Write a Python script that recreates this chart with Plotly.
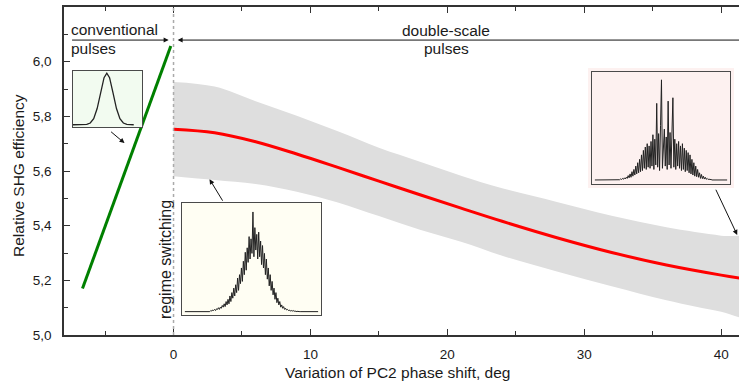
import plotly.graph_objects as go

# ---------------- main data ----------------
deg = [0, 3, 6, 9, 12, 15, 18, 21, 24, 28, 32, 36, 40, 42]
eff_mean = [5.753, 5.740, 5.707, 5.662, 5.613, 5.563, 5.513, 5.464, 5.416, 5.356, 5.302, 5.256, 5.219, 5.203]
eff_upper = [5.926, 5.909, 5.855, 5.802, 5.745, 5.685, 5.634, 5.583, 5.537, 5.487, 5.436, 5.394, 5.363, 5.350]
eff_lower = [5.581, 5.567, 5.552, 5.524, 5.485, 5.435, 5.385, 5.341, 5.290, 5.232, 5.178, 5.127, 5.085, 5.068]

conv_deg = [-6.65, -0.2]
conv_eff = [5.170, 6.057]

switch_deg = 0

x_ticks = [0, 10, 20, 30, 40]
y_ticks = [5.0, 5.2, 5.4, 5.6, 5.8, 6.0]

# ---------------- inset data (normalised pulse shapes) ----------------
gauss_t = [0.0, 0.1, 0.2, 0.25, 0.3, 0.35, 0.4, 0.45, 0.49, 0.53, 0.58, 0.63, 0.68, 0.73, 0.78, 0.88]
gauss_i = [0.04, 0.04, 0.046, 0.071, 0.15, 0.33, 0.61, 0.88, 0.96, 0.88, 0.61, 0.33, 0.15, 0.071, 0.046, 0.04]

switch_i = ([0.03] * 25 + [
    0.035, 0.03, 0.04, 0.035, 0.045, 0.04, 0.05, 0.04, 0.055, 0.05,
    0.065, 0.05, 0.07, 0.06, 0.085, 0.07, 0.10, 0.075, 0.12, 0.09,
    0.14, 0.10, 0.17, 0.12, 0.20, 0.15, 0.24, 0.17, 0.27, 0.20,
    0.33, 0.22, 0.36, 0.28, 0.42, 0.30, 0.48, 0.36, 0.56, 0.40,
    0.60, 0.47, 0.70, 0.50, 0.68, 0.55, 0.92, 0.52, 0.78, 0.58,
    0.72, 0.50, 0.74, 0.52, 0.66, 0.45, 0.62, 0.42, 0.55, 0.36,
    0.50, 0.32, 0.42, 0.26, 0.36, 0.22, 0.30, 0.18, 0.24, 0.14,
    0.20, 0.11, 0.15, 0.09, 0.12, 0.07, 0.09, 0.06, 0.075, 0.05,
    0.06, 0.045, 0.05, 0.04, 0.045, 0.035, 0.04, 0.035, 0.04, 0.033,
    0.036, 0.03, 0.033, 0.03] + [0.03] * 21)

double_i = ([0.036] * 23 + [
    0.04, 0.036, 0.042, 0.038, 0.045, 0.04, 0.05, 0.042, 0.055, 0.045,
    0.06, 0.05, 0.075, 0.055, 0.09, 0.06, 0.11, 0.07, 0.13, 0.08,
    0.16, 0.09, 0.19, 0.10, 0.22, 0.11, 0.26, 0.12, 0.30, 0.14,
    0.33, 0.13, 0.36, 0.15, 0.34, 0.14, 0.38, 0.16, 0.44, 0.13,
    0.40, 0.17, 0.72, 0.15, 0.45, 0.12, 0.52, 0.93, 0.14, 0.40,
    0.49, 0.16, 0.42, 0.13, 0.74, 0.17, 0.46, 0.14, 0.50, 0.77,
    0.15, 0.40, 0.13, 0.36, 0.16, 0.38, 0.14, 0.34, 0.12, 0.36,
    0.13, 0.32, 0.11, 0.30, 0.12, 0.28, 0.10, 0.26, 0.09, 0.22,
    0.08, 0.19, 0.07, 0.16, 0.065, 0.13, 0.06, 0.10, 0.05, 0.085,
    0.048, 0.07, 0.044, 0.06, 0.042, 0.05, 0.04, 0.045, 0.038, 0.042] + [0.036] * 17)

switch_idx = list(range(len(switch_i)))
double_idx = list(range(len(double_i)))

# ---------------- figure ----------------
W, H = 739, 386
ML, MR, MT, MB = 64, 0, 7, 51
PW, PH = W - ML - MR, H - MT - MB


def px(xp):
    return (xp - ML) / PW


def py(yp):
    return (H - MB - yp) / PH


fig = go.Figure()

# band
fig.add_trace(go.Scatter(x=deg + deg[::-1], y=eff_upper + eff_lower[::-1], fill="toself",
                         fillcolor="#dedede", line=dict(width=0, shape="spline"),
                         mode="lines", hoverinfo="skip", showlegend=False))
fig.add_trace(go.Scatter(x=deg, y=eff_mean, mode="lines",
                         line=dict(color="#ff0000", width=3, shape="spline"), showlegend=False))
fig.add_trace(go.Scatter(x=conv_deg, y=conv_eff, mode="lines",
                         line=dict(color="#008000", width=3), showlegend=False))

frame = "#4a4a4a"
insets = [
    # (axis suffix, x-pixels, y-pixels, bg color, x, y, xrange)
    ("2", (73, 142), (71, 127), "#f2fbf0", gauss_t, gauss_i, [0, 1]),
    ("3", (182, 321), (203, 315), "#fffef3", switch_idx, switch_i, [-3, len(switch_i) + 2]),
    ("4", (592, 730), (72, 184), "#fdf1f0", double_idx, double_i, [-3, len(double_i) + 2]),
]
for n, (sfx, xs, ys, bg, xv, yv, xr) in enumerate(insets):
    xa, ya = "x" + sfx, "y" + sfx
    fig.add_trace(go.Scatter(x=[xr[0], xr[1], xr[1], xr[0], xr[0]], y=[0, 0, 1, 1, 0],
                             fill="toself", fillcolor=bg, line=dict(width=0), mode="lines",
                             xaxis=xa, yaxis=ya, hoverinfo="skip", showlegend=False))
    fig.add_trace(go.Scatter(x=xv, y=yv, mode="lines",
                             line=dict(color="#222222", width=1.0 if n else 1.3),
                             xaxis=xa, yaxis=ya, showlegend=False))
    common = dict(showline=True, mirror=True, linecolor=frame, linewidth=1.2,
                  showgrid=False, zeroline=False, showticklabels=False, ticks="")
    fig.layout["xaxis" + sfx] = dict(domain=[px(xs[0]), px(xs[1])], range=xr, anchor=ya, **common)
    fig.layout["yaxis" + sfx] = dict(domain=[py(ys[1]), py(ys[0])], range=[0, 1], anchor=xa, **common)

# pink margin around the right inset
fig.add_shape(type="rect", xref="paper", yref="paper", layer="below",
              x0=px(588), x1=px(734), y0=py(188), y1=py(68),
              fillcolor="#fdf1f0", line=dict(width=0))

# regime switching dotted line
fig.add_shape(type="line", xref="x", yref="paper", x0=switch_deg, x1=switch_deg, y0=0, y1=1,
              line=dict(color="#aaaaaa", width=1.5, dash="dot"), layer="above")

font = "Liberation Sans, Arial, sans-serif"
tc = "#1a1a1a"

fig.update_layout(
    width=W, height=H, margin=dict(l=ML, r=MR, t=MT, b=MB),
    paper_bgcolor="white", plot_bgcolor="white",
    separators=",.",
    font=dict(family=font, size=13.5, color=tc),
    xaxis=dict(range=[-8, 41.3], domain=[0, 1], anchor="y",
               tickvals=x_ticks, ticks="inside", ticklen=6, tickwidth=1.2, tickcolor="#333",
               minor=dict(dtick=5, tick0=0, ticks="inside", ticklen=4, tickcolor="#333", tickwidth=1.2),
               showline=True, linecolor="#333", linewidth=1.5, mirror="ticks",
               showgrid=False, zeroline=False, ticklabelstandoff=6),
    yaxis=dict(range=[5.0, 6.2], domain=[0, 1], anchor="x",
               tickvals=y_ticks, tickformat=".1f", ticks="inside", ticklen=6, tickwidth=1.2, tickcolor="#333",
               minor=dict(dtick=0.1, tick0=5.0, ticks="inside", ticklen=4, tickcolor="#333", tickwidth=1.2),
               showline=True, linecolor="#333", linewidth=1.5, mirror=False,
               showgrid=False, zeroline=False, ticklabelstandoff=8),
)

arrow = dict(showarrow=True, arrowhead=2, arrowsize=1, arrowwidth=1, arrowcolor="#111",
             text="", xref="x", yref="y", axref="x", ayref="y")
# long arrows
fig.add_annotation(x=-0.36, y=6.079, ax=-7.52, ay=6.079, **arrow)
fig.add_annotation(x=0.3, y=6.079, ax=41.6, ay=6.079, **arrow)
# inset pointers
fig.add_annotation(x=-3.58, y=5.702, ax=-4.67, ay=5.748, **arrow)
fig.add_annotation(x=2.63, y=5.570, ax=3.65, ay=5.486, **arrow)
fig.add_annotation(x=41.17, y=5.366, ax=39.56, ay=5.537, **arrow)

tf = dict(family=font, size=15.5, color=tc)
fig.add_annotation(text="conventional", x=px(69), y=py(30), xref="paper", yref="paper",
                   xanchor="left", yanchor="middle", showarrow=False, font=tf)
fig.add_annotation(text="pulses", x=px(69), y=py(48), xref="paper", yref="paper",
                   xanchor="left", yanchor="middle", showarrow=False, font=tf)
fig.add_annotation(text="double-scale", x=px(446), y=py(31), xref="paper", yref="paper",
                   xanchor="center", yanchor="middle", showarrow=False, font=tf)
fig.add_annotation(text="pulses", x=px(447), y=py(48), xref="paper", yref="paper",
                   xanchor="center", yanchor="middle", showarrow=False, font=tf)
fig.add_annotation(text="regime switching", x=px(165), y=py(260), xref="paper", yref="paper",
                   xanchor="center", yanchor="middle", textangle=-90, showarrow=False,
                   font=dict(family=font, size=16, color=tc))
# axis titles
fig.add_annotation(text="Variation of PC2 phase shift, deg", x=px(397), y=py(372),
                   xref="paper", yref="paper", xanchor="center", yanchor="middle",
                   showarrow=False, font=tf)
fig.add_annotation(text="Relative SHG efficiency", x=px(18), y=py(176), xref="paper", yref="paper",
                   xanchor="center", yanchor="middle", textangle=-90, showarrow=False, font=tf)

fig.write_html("out.html", config={"displayModeBar": False},
               post_script="document.body.style.margin='0';document.body.style.padding='0';"
                           "document.body.style.overflow='hidden';")
